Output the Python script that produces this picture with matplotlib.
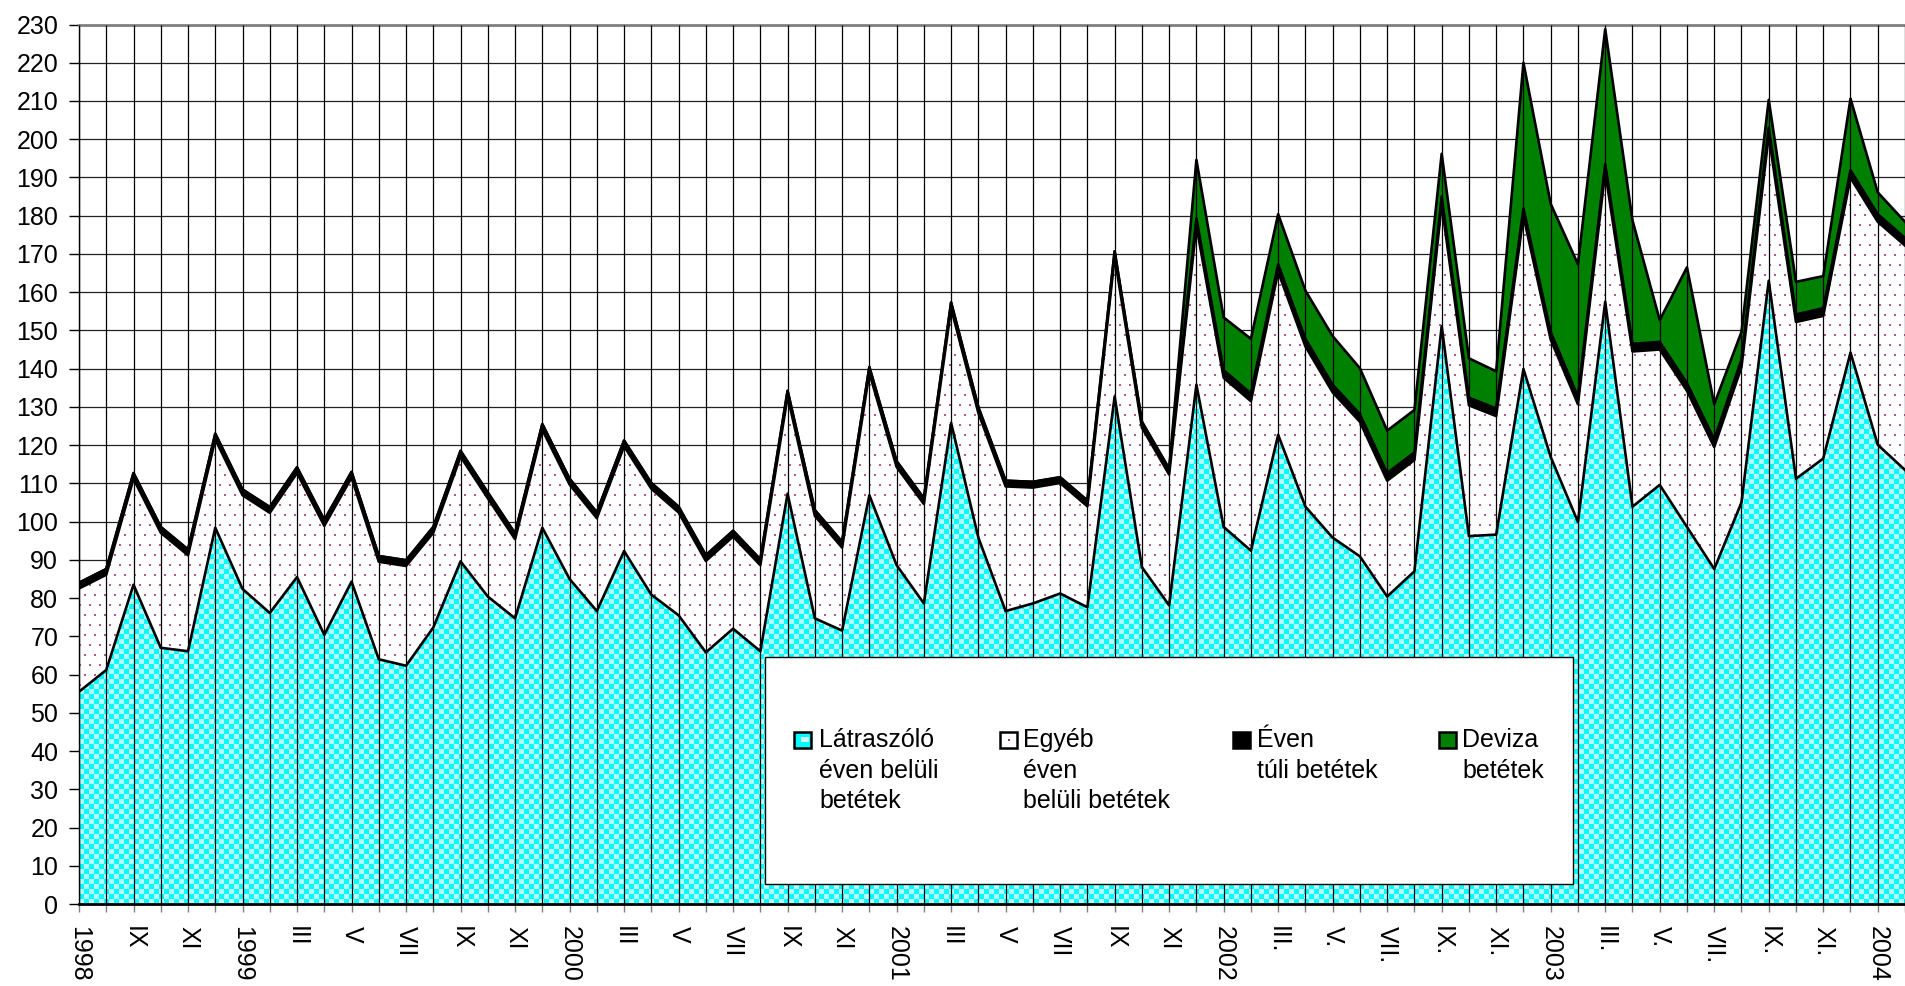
import numpy as np
import matplotlib
matplotlib.use("Agg")
import matplotlib.pyplot as plt
from matplotlib.patches import Rectangle

plt.rcParams["font.family"] = ["Liberation Sans", "DejaVu Sans"]

# havi állományok, 1998 VII - 2004 II
latraszolo = [55.5, 61.2, 83.5, 67.0, 66.1, 98.4, 82.4, 76.1, 85.5, 70.4,
              84.3, 64.0, 62.3, 72.3, 89.6, 80.4, 74.7, 98.4, 85.0, 76.6,
              92.3, 80.9, 75.5, 65.8, 72.0, 66.1, 107.3, 74.7, 71.5, 106.9,
              88.6, 78.6, 125.8, 95.8, 76.6, 78.6, 81.2, 77.6, 132.7, 88.1,
              78.1, 135.8, 98.6, 92.4, 122.7, 103.9, 95.8, 90.9, 80.4, 87.0,
              151.1, 96.2, 96.6, 139.9, 116.9, 99.9, 157.5, 103.9, 109.6, 98.6,
              87.6, 105.0, 163.0, 111.2, 116.5, 144.2, 120.1, 113.5]
egyeb = [27.0, 24.9, 27.7, 30.1, 25.1, 23.1, 24.5, 26.2, 27.2, 28.5,
         27.2, 25.5, 26.1, 24.8, 27.4, 25.7, 20.7, 25.6, 24.7, 24.3,
         27.4, 27.7, 26.9, 23.9, 24.1, 22.5, 25.4, 26.8, 21.7, 32.0,
         25.7, 26.0, 30.0, 32.6, 32.6, 30.3, 28.9, 26.4, 36.5, 36.5,
         34.2, 41.5, 39.0, 39.1, 42.6, 41.9, 38.0, 35.2, 30.3, 29.1,
         31.9, 34.2, 31.0, 40.0, 30.7, 30.8, 34.0, 40.6, 35.4, 35.6,
         31.9, 35.4, 38.0, 41.0, 37.3, 45.7, 58.3, 58.7]
even_tuli = [1.5] * 41 + [2.0] * 27
deviza = [0.0] * 41 + [15.3, 13.8, 14.3, 13.1, 12.6, 12.7, 12.0, 11.1, 11.1,
                       11.2, 10.3, 9.7, 38.1, 33.5, 34.6, 35.3, 32.3, 5.7, 30.3,
                       9.2, 7.2, 7.3, 8.5, 8.4, 18.7, 5.7, 4.2]

tick_labels = ["1998", "", "IX", "", "XI", "", "1999", "", "III", "", "V", "",
               "VII", "", "IX", "", "XI", "", "2000", "", "III", "", "V", "",
               "VII", "", "IX", "", "XI", "", "2001", "", "III", "", "V", "",
               "VII", "", "IX", "", "XI", "", "2002", "", "III.", "", "V.", "",
               "VII.", "", "IX.", "", "XI.", "", "2003", "", "III.", "", "V.", "",
               "VII.", "", "IX.", "", "XI.", "", "2004", ""]

legend_labels = ["Látraszóló\néven belüli\nbetétek",
                 "Egyéb\néven\nbelüli betétek",
                 "Éven\ntúli betétek",
                 "Deviza\nbetétek"]

W, H = 1905, 986
fig = plt.figure(figsize=(W / 100, H / 100), dpi=100)
ax = fig.add_axes([79 / W, 82 / H, 1 - 79 / W, 879.5 / H])

x = np.arange(len(latraszolo))
top1 = np.array(latraszolo)
top2 = top1 + np.array(egyeb)
top3 = top2 + np.array(even_tuli)
top4 = top3 + np.array(deviza)

# mintázatok (cián kockás, pöttyös)
ph, pw = 880, 1826
yy, xx = np.mgrid[0:ph, 0:pw]
cyan_img = np.ones((ph, pw, 3))
checker = ((xx // 5) + (yy // 5)) % 2 == 0
cyan_img[checker] = [0.0, 1.0, 1.0]
cyan_img[~checker] = [0.72, 1.0, 1.0]

dot_img = np.ones((ph, pw, 3))
dots = (((xx % 10) < 2) & ((yy % 20) < 2)) | ((((xx + 5) % 10) < 2) & (((yy + 10) % 20) < 2))
dot_img[dots] = [0.7, 0.35, 0.55]

p1 = ax.fill_between(x, 0, top1, facecolor="none", edgecolor="none")
im1 = ax.imshow(cyan_img, extent=(0, 67, 0, 230), aspect="auto",
                interpolation="nearest", zorder=1)
im1.set_clip_path(p1.get_paths()[0], transform=ax.transData)

p2 = ax.fill_between(x, top1, top2, facecolor="none", edgecolor="none")
im2 = ax.imshow(dot_img, extent=(0, 67, 0, 230), aspect="auto",
                interpolation="nearest", zorder=1)
im2.set_clip_path(p2.get_paths()[0], transform=ax.transData)

ax.fill_between(x, top2, top3, facecolor="black", edgecolor="none", zorder=1.5)
ax.fill_between(x, top3, top4, facecolor="#008000", edgecolor="none", zorder=1.5)

for t in [top1, top2, top3, top4]:
    ax.plot(x, t, color="black", lw=1.9, zorder=2.5)

yticks = np.arange(0, 231, 10)
ax.hlines(yticks, 0, 67, colors="#222222", lw=0.9, zorder=0.5)
ax.vlines(x, 0, 230, colors="black", lw=0.9, zorder=3)

ax.set_xlim(0, 67)
ax.set_ylim(0, 230)
ax.set_yticks(yticks)
ax.set_xticks(x, tick_labels, rotation=-90)

ax.tick_params(axis="y", direction="out", length=7, width=1, pad=8, labelsize=18)
ax.tick_params(axis="x", direction="out", length=6, width=1, color="#808080",
               pad=10, labelsize=18)

ax.spines["right"].set_visible(False)
ax.spines["top"].set_color("#808080")
ax.spines["top"].set_linewidth(2)
ax.spines["bottom"].set_linewidth(2)
ax.spines["left"].set_linewidth(1)


def fx(px):
    return px / W


def fy(py):
    return 1 - py / H


# jelmagyarázat
fig.add_artist(Rectangle((fx(765), fy(884)), fx(1573) - fx(765), fy(657) - fy(884),
                         transform=fig.transFigure, facecolor="white",
                         edgecolor="black", lw=1, zorder=10))

marker_x = [794, 1000, 1233, 1439]
text_x = [819, 1023, 1257, 1462]
marker_fc = ["#00FFFF", "white", "black", "#008000"]
for mx, tx, fc, lab in zip(marker_x, text_x, marker_fc, legend_labels):
    fig.add_artist(Rectangle((fx(mx), fy(748)), fx(mx + 17) - fx(mx), fy(732) - fy(748),
                             transform=fig.transFigure, facecolor=fc,
                             edgecolor="black", lw=1.8, zorder=11))
    fig.text(fx(tx), fy(728), lab, ha="left", va="top", fontsize=18,
             linespacing=1.35, zorder=12)

fig.add_artist(Rectangle((fx(801), fy(742)), fx(8) - fx(0), fy(737) - fy(742),
                         transform=fig.transFigure, facecolor="#CCFFFF",
                         edgecolor="none", zorder=12))
fig.add_artist(Rectangle((fx(1008), fy(741)), fx(2) - fx(0), fy(739) - fy(741),
                         transform=fig.transFigure, facecolor="#993366",
                         edgecolor="none", zorder=12))

fig.savefig("out.png", dpi=100)
